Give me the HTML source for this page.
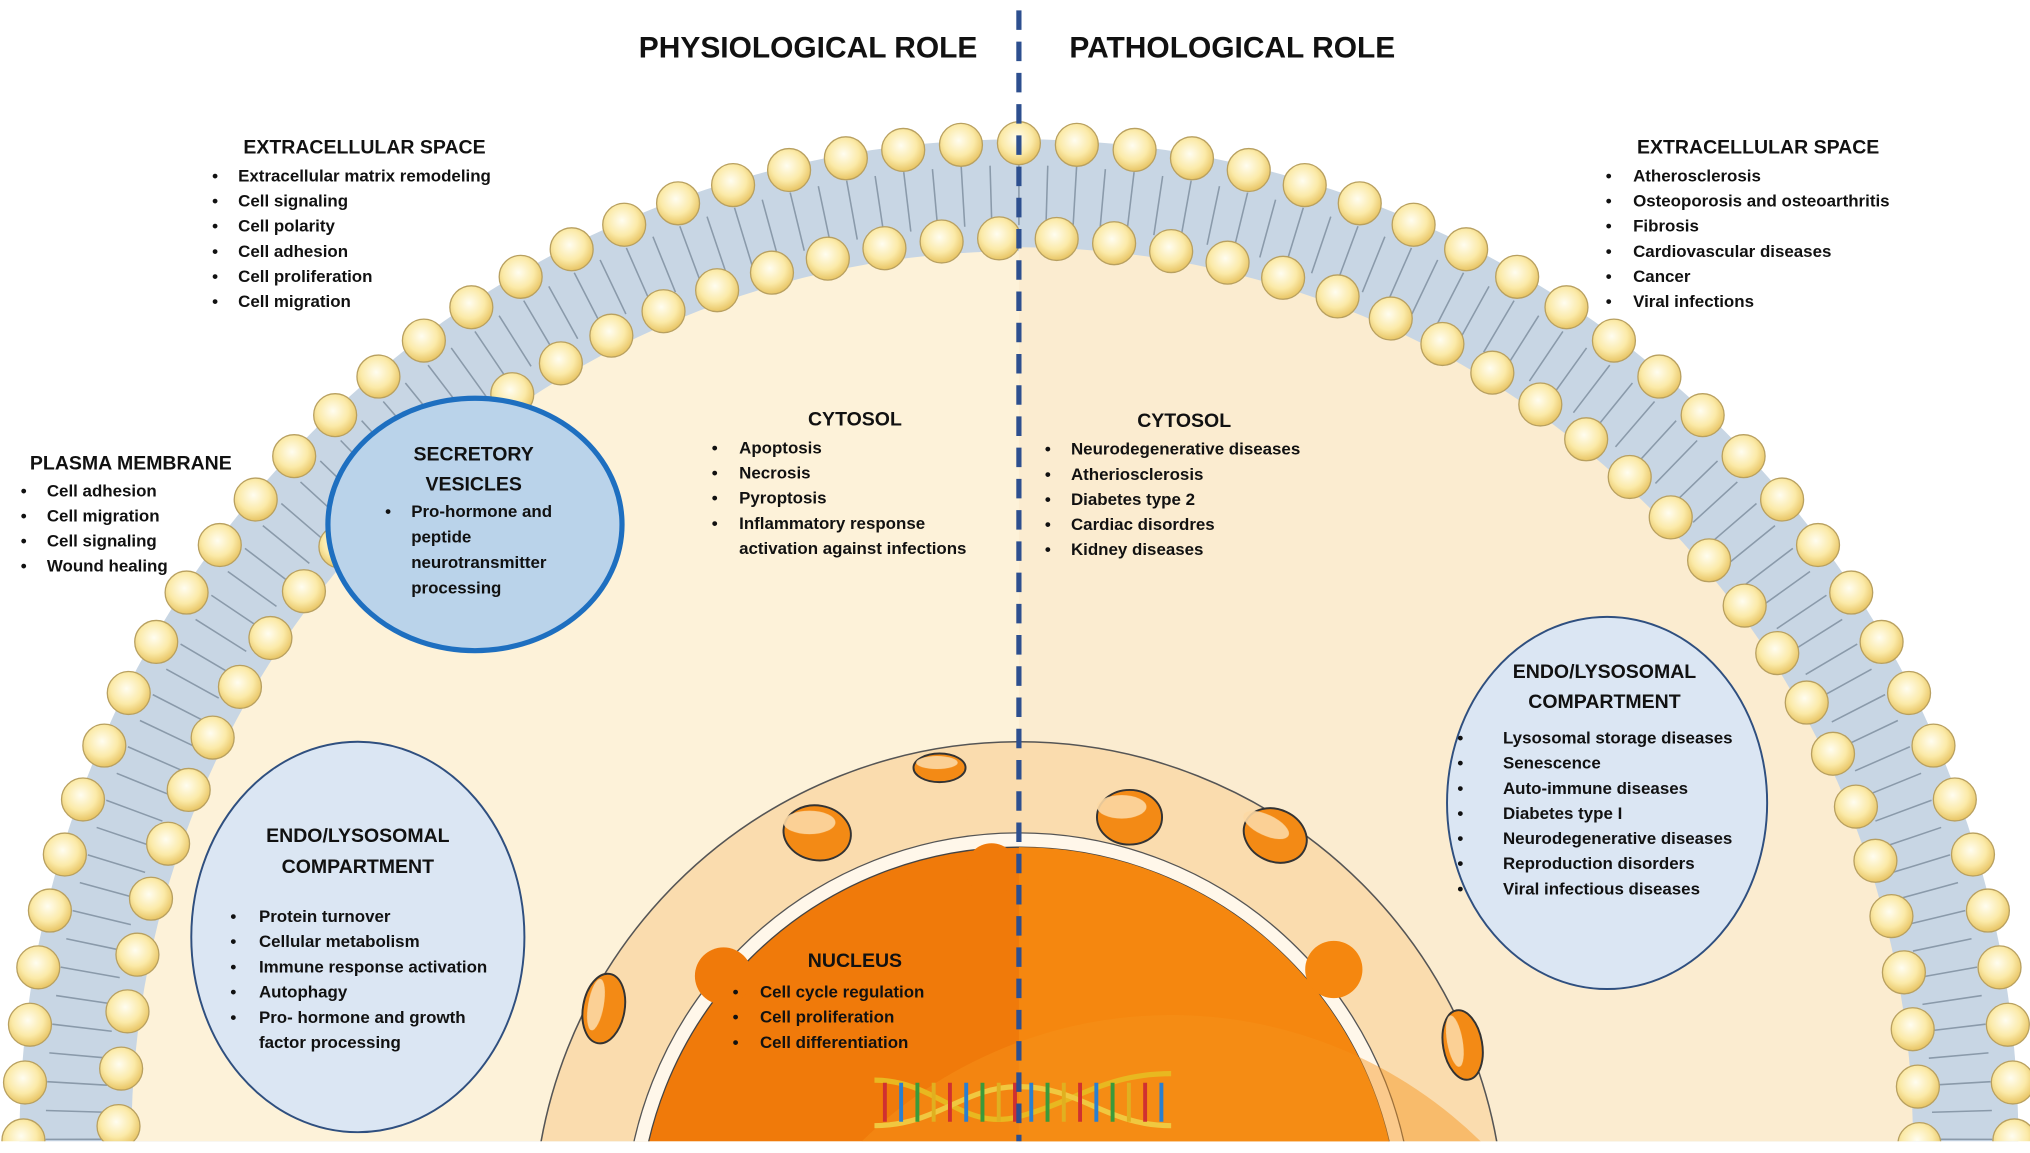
<!DOCTYPE html>
<html><head><meta charset="utf-8"><style>
html,body{margin:0;padding:0;background:#fff;overflow:hidden;width:2030px;height:1153px}
svg{display:block}
text{font-family:"Liberation Sans",sans-serif;font-weight:bold;fill:#111}
.t{font-size:13px}
.h{font-size:15px}
.ti{font-size:23px}
</style></head><body>
<svg id="s" width="2030" height="1153" viewBox="0 0 1560 886" preserveAspectRatio="none" xmlns="http://www.w3.org/2000/svg">
<defs>
<radialGradient id="bead" cx="45%" cy="40%" r="60%">
<stop offset="0" stop-color="#fffdf0"/><stop offset="0.6" stop-color="#fbeaa8"/><stop offset="1" stop-color="#e8c565"/>
</radialGradient>
<clipPath id="clip"><rect x="0" y="0" width="1560" height="877"/></clipPath>
<clipPath id="nuc"><circle cx="783" cy="943" r="373"/></clipPath>
</defs>
<g clip-path="url(#clip)">
<circle cx="783" cy="875" r="768" fill="#c8d6e4"/>
<g id="tails" stroke="#8a9aaa" stroke-width="1.2"></g>
<circle cx="783" cy="875" r="682" fill="#fdf2d9"/>
<path d="M783 190 L783 880 L1470 880 A687 687 0 0 0 783 190Z" fill="#fbecd0"/>
<g id="beads"></g>
<!-- nucleus -->
<circle cx="783" cy="943" r="373" fill="#fadcae" stroke="#555" stroke-width="1.2"/>
<g clip-path="url(#nuc)">
<circle cx="783" cy="943" r="303" fill="#fff7ea" stroke="#555" stroke-width="1"/>
<circle cx="783" cy="943" r="292" fill="#f07a0a" stroke="#444" stroke-width="1"/>
<path d="M783 651 A292 292 0 0 1 1075 943 L783 943Z" fill="#f5870f"/>
<circle cx="900" cy="1120" r="340" fill="#f7921a" opacity="0.45"/>
<circle cx="762" cy="668" r="20" fill="#f07a0a"/>
<circle cx="556" cy="750" r="22" fill="#f07a0a"/>
<circle cx="1025" cy="745" r="22" fill="#f5870f"/>
</g>
<g fill="#f38a15" stroke="#333" stroke-width="1.5">
<ellipse cx="722" cy="590" rx="20" ry="11"/>
<ellipse cx="628" cy="640" rx="26" ry="21" transform="rotate(10 628 640)"/>
<ellipse cx="868" cy="628" rx="25" ry="21"/>
<ellipse cx="980" cy="642" rx="25" ry="20" transform="rotate(25 980 642)"/>
<ellipse cx="464" cy="775" rx="16" ry="27" transform="rotate(10 464 775)"/>
<ellipse cx="1124" cy="803" rx="15" ry="27" transform="rotate(-10 1124 803)"/>
</g>
<g fill="#fcd9a4" opacity="0.9">
<ellipse cx="720" cy="586" rx="16" ry="5"/>
<ellipse cx="622" cy="632" rx="20" ry="9"/>
<ellipse cx="862" cy="620" rx="19" ry="9"/>
<ellipse cx="973" cy="634" rx="19" ry="8" transform="rotate(25 973 634)"/>
<ellipse cx="458" cy="772" rx="6" ry="20" transform="rotate(10 458 772)"/>
<ellipse cx="1118" cy="800" rx="6" ry="20" transform="rotate(-10 1118 800)"/>
</g>
<!-- DNA -->
<g fill="none" stroke-width="4">
<path d="M672 830 C720 830 740 870 783 858 C830 845 850 825 900 825" stroke="#e8b820"/>
<path d="M672 865 C720 865 740 835 783 835 C830 835 850 865 900 865" stroke="#f0c840"/>
</g>
<g stroke-width="3" id="rungs"></g>
</g>
<!-- dashed line -->
<line x1="783" y1="8" x2="783" y2="877" stroke="#2d4f8f" stroke-width="4" stroke-dasharray="15 9"/>
<!-- ellipses -->
<ellipse cx="365" cy="403" rx="113" ry="97" fill="#bad3ea" stroke="#1e6fc0" stroke-width="4"/>
<ellipse cx="275" cy="720" rx="128" ry="150" fill="#dbe6f3" stroke="#2f4f7f" stroke-width="1.5"/>
<ellipse cx="1235" cy="617" rx="123" ry="143" fill="#dbe6f3" stroke="#2f4f7f" stroke-width="1.5"/>
<g dominant-baseline="middle">
<text class="ti" x="621" y="38" text-anchor="middle">PHYSIOLOGICAL ROLE</text>
<text class="ti" x="947" y="38" text-anchor="middle">PATHOLOGICAL ROLE</text>
<text class="h" x="187" y="114">EXTRACELLULAR SPACE</text>
<text class="h" x="1258" y="114">EXTRACELLULAR SPACE</text>
<text class="h" x="23" y="357">PLASMA MEMBRANE</text>
<text class="h" x="364" y="350" text-anchor="middle">SECRETORY</text>
<text class="h" x="364" y="373" text-anchor="middle">VESICLES</text>
<text class="h" x="657" y="323" text-anchor="middle">CYTOSOL</text>
<text class="h" x="910" y="324" text-anchor="middle">CYTOSOL</text>
<text class="h" x="1233" y="517" text-anchor="middle">ENDO/LYSOSOMAL</text>
<text class="h" x="1233" y="540" text-anchor="middle">COMPARTMENT</text>
<text class="h" x="275" y="643" text-anchor="middle">ENDO/LYSOSOMAL</text>
<text class="h" x="275" y="667" text-anchor="middle">COMPARTMENT</text>
<text class="h" x="657" y="739" text-anchor="middle">NUCLEUS</text>
<g id="lists"></g>
</g>
</svg>
<script>
var NS="http://www.w3.org/2000/svg";
function el(t,a,p){var e=document.createElementNS(NS,t);for(var k in a)e.setAttribute(k,a[k]);p.appendChild(e);return e;}
var cx=783,cy=875,beads=document.getElementById('beads'),tails=document.getElementById('tails');
function ring(R,n,off){for(var i=0;i<=n;i++){var a=-0.06+(Math.PI+0.12)*i/n+off;var x=cx-R*Math.cos(a),y=cy-R*Math.sin(a);
el('circle',{cx:x,cy:y,r:16.5,fill:'url(#bead)',stroke:'#b8a060','stroke-width':1},beads);}}
for(var i=0;i<=110;i++){var a=-0.06+(Math.PI+0.12)*i/110;
var c=Math.cos(a),s=Math.sin(a);
el('line',{x1:cx-748*c,y1:cy-748*s,x2:cx-702*c,y2:cy-702*s},tails);}
ring(765,56,0);ring(692,51,0.01);
var r=document.getElementById('rungs');var cols=['#d03030','#2a7fd0','#3a9a3a','#e0b020'];
for(var i=0;i<18;i++){var x=680+i*12.5;el('line',{x1:x,y1:832,x2:x,y2:862,stroke:cols[i%4]},r);}
var L=document.getElementById('lists');
function list(bx,tx,y0,step,items){items.forEach(function(it,i){var y=y0+i*step;var t=it,b=true;if(t[0]=='~'){t=t.slice(1);b=false;}
if(b)el('text',{x:bx,y:y,'class':'t'},L).textContent='•';el('text',{x:tx,y:y,'class':'t'},L).textContent=t;});}
list(163,183,136,19.3,['Extracellular matrix remodeling','Cell signaling','Cell polarity','Cell adhesion','Cell proliferation','Cell migration']);
list(1234,1255,136,19.3,['Atherosclerosis','Osteoporosis and osteoarthritis','Fibrosis','Cardiovascular diseases','Cancer','Viral infections']);
list(16,36,378,19.3,['Cell adhesion','Cell migration','Cell signaling','Wound healing']);
list(296,316,394,19.5,['Pro-hormone and','~peptide','~neurotransmitter','~processing']);
list(547,568,345,19.3,['Apoptosis','Necrosis','Pyroptosis','Inflammatory response','~activation against infections']);
list(803,823,346,19.3,['Neurodegenerative diseases','Atheriosclerosis','Diabetes type 2','Cardiac disordres','Kidney diseases']);
list(1120,1155,568,19.3,['Lysosomal storage diseases','Senescence','Auto-immune diseases','Diabetes type I','Neurodegenerative diseases','Reproduction disorders','Viral infectious diseases']);
list(177,199,705,19.4,['Protein turnover','Cellular metabolism','Immune response activation','Autophagy','Pro- hormone and growth','~factor processing']);
list(563,584,763,19.4,['Cell cycle regulation','Cell proliferation','Cell differentiation']);
</script>
</body></html>
